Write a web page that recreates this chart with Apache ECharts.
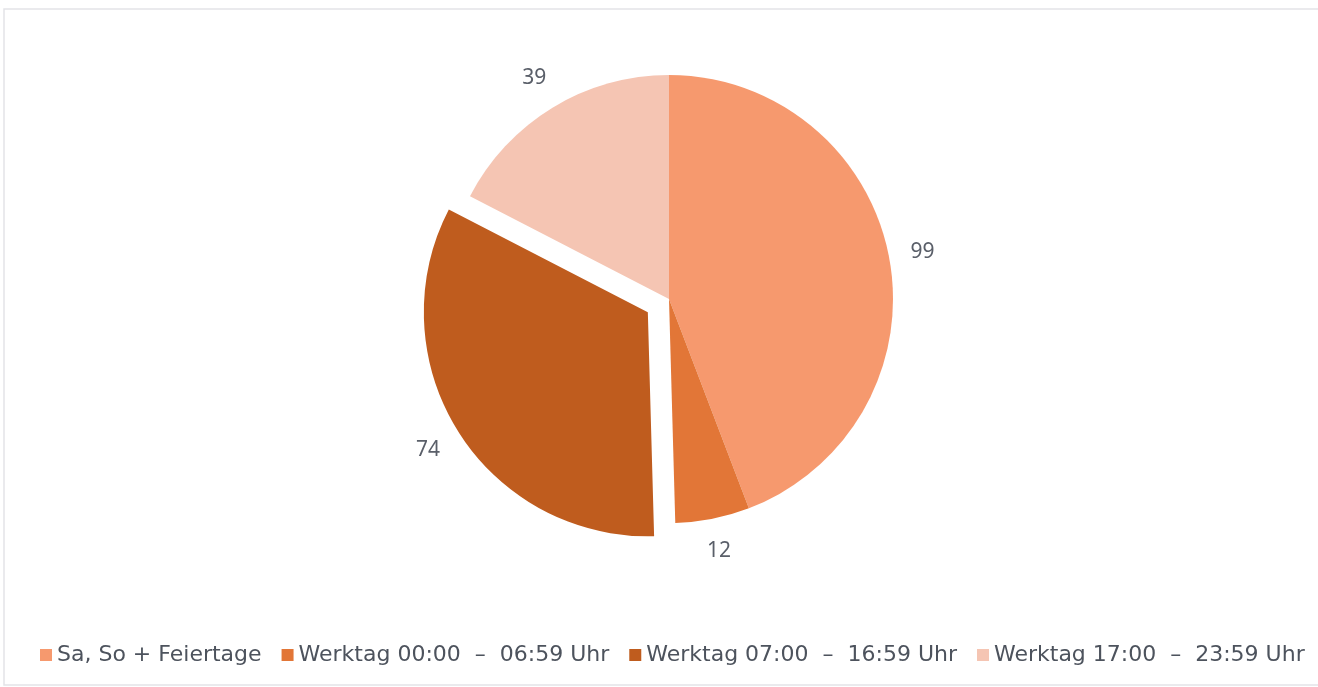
<!DOCTYPE html>
<html>
<head>
<meta charset="utf-8">
<script src="https://cdn.jsdelivr.net/npm/echarts@6/dist/echarts.min.js"></script>
<style>
  html, body { margin: 0; padding: 0; background: #ffffff; }
  #chart { width: 1318px; height: 687px; }
</style>
</head>
<body>
<div id="chart"></div>
<script>
// ---- data ----
const categories = [
  'Sa, So + Feiertage',
  'Werktag 00:00  \u2013  06:59 Uhr',
  'Werktag 07:00  \u2013  16:59 Uhr',
  'Werktag 17:00  \u2013  23:59 Uhr'
];
const values = [99, 12, 74, 39];
const explodedIndex = 2;
const colors = ['#F6996E', '#E27637', '#BF5C1E', '#F5C5B3'];

// ---- layout ----
const CX = 669, CY = 299, R = 224, OFFSET = 25, LABEL_GAP = 20;
const LABEL_FONT = 21, LABEL_FAMILY = 'Noto Sans';

const total = values.reduce((a, b) => a + b, 0);
function midAngle(i) {
  let before = 0;
  for (let k = 0; k < i; k++) before += values[k];
  return (before + values[i] / 2) / total * Math.PI * 2; // from top, clockwise
}
const measureCtx = document.createElement('canvas').getContext('2d');
measureCtx.font = LABEL_FONT + 'px ' + LABEL_FAMILY;
function labelDist(i) {
  const a = midAngle(i);
  const dx = Math.sin(a), dy = -Math.cos(a);
  const w = measureCtx.measureText(String(values[i])).width;
  const h = LABEL_FONT;
  const ext = Math.abs(dx) * w / 2 + Math.abs(dy) * h / 2;
  return { dx: dx, dy: dy, w: w, d: R + LABEL_GAP + ext };
}

const chart = echarts.init(document.getElementById('chart'), null, { renderer: 'canvas' });

const option = {
  backgroundColor: '#ffffff',
  animation: false,
  color: colors,
  graphic: [{
    type: 'rect',
    shape: { x: 4, y: 9, width: 1330, height: 676 },
    style: { fill: 'none', stroke: '#e3e4e8', lineWidth: 1.5 },
    silent: true,
    z: -1
  }],
  legend: {
    bottom: 16,
    left: 35,
    icon: 'rect',
    itemWidth: 12,
    itemHeight: 12,
    itemGap: 20,
    textStyle: { fontFamily: 'DejaVu Sans, sans-serif', fontSize: 22, color: '#4d535d' },
    data: categories,
    selectedMode: false
  },
  series: [{
    type: 'pie',
    center: [CX, CY],
    radius: R,
    startAngle: 90,
    clockwise: true,
    selectedMode: 'single',
    selectedOffset: OFFSET,
    avoidLabelOverlap: false,
    label: {
      show: true,
      position: 'outside',
      alignTo: 'none',
      formatter: '{c}',
      fontFamily: LABEL_FAMILY,
      fontSize: LABEL_FONT,
      color: '#5a5f69'
    },
    labelLine: { show: false },
    labelLayout: function (p) {
      if (p.dataIndex === explodedIndex) return {};
      const L = labelDist(p.dataIndex);
      return { x: CX + L.dx * L.d, y: CY + L.dy * L.d, align: 'center', verticalAlign: 'middle' };
    },
    emphasis: { disabled: true },
    itemStyle: { borderWidth: 0 },
    data: categories.map((name, i) => {
      const item = { name: name, value: values[i], selected: i === explodedIndex };
      if (i === explodedIndex) {
        const L = labelDist(i);
        item.labelLine = { show: false, length: L.d - R, length2: 0 };
        item.label = { distanceToLabelLine: -L.w / 2 };
      }
      return item;
    })
  }]
};

chart.setOption(option);
</script>
</body>
</html>
